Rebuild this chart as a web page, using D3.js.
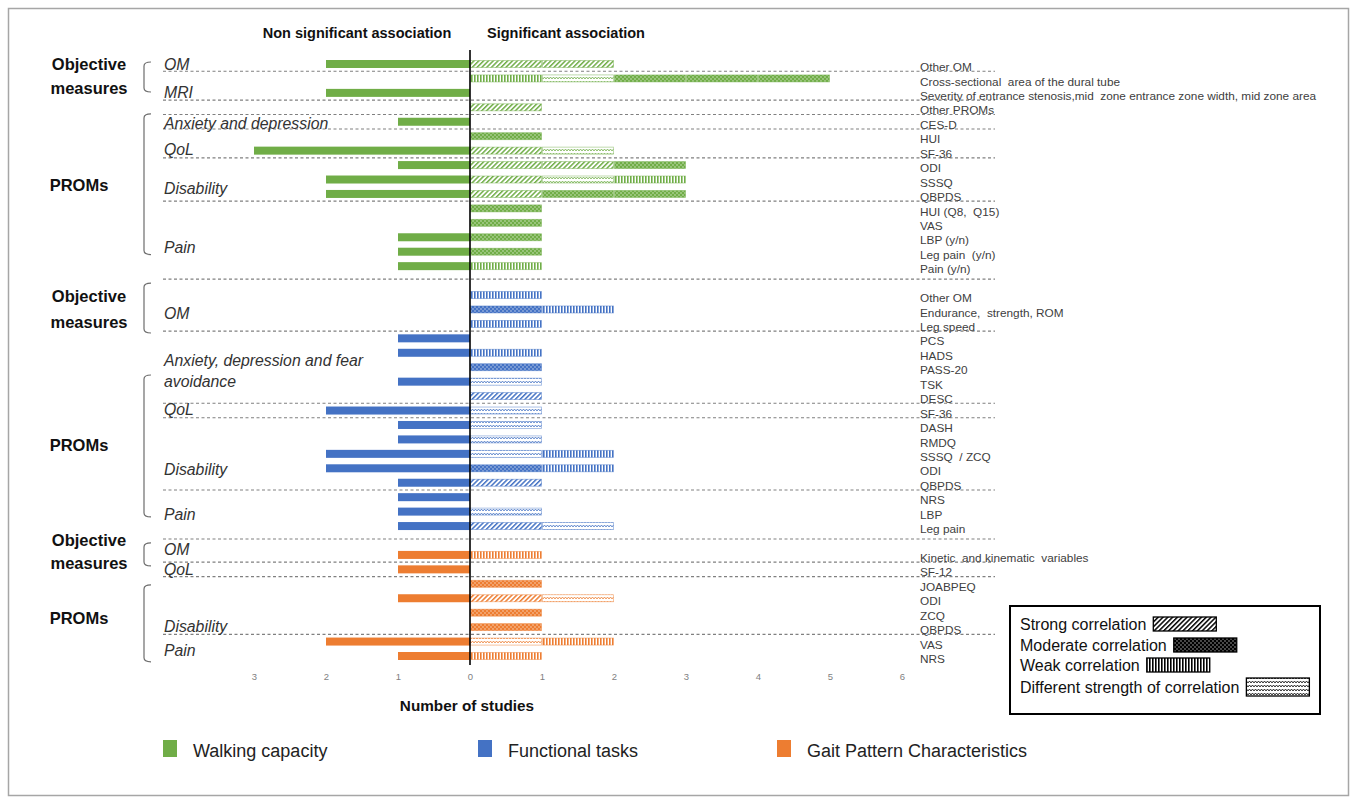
<!DOCTYPE html>
<html>
<head>
<meta charset="utf-8">
<script src="https://cdn.jsdelivr.net/npm/d3@7"></script>
<style>
  body { margin: 0; background: #fff; }
  svg { display: block; }
  text { font-family: "Liberation Sans", Arial, sans-serif; white-space: pre; }
</style>
</head>
<body>
<svg id="chart" width="1357" height="802"></svg>
<script>
// ---- Data -------------------------------------------------------------
// Outcome measures, top to bottom, for each walking-related domain.
// Significant studies are coded one letter per study:
// S = strong, M = moderate, W = weak, D = different strength of correlation.
const walkingOutcomes = ["Other OM", "Cross-sectional  area of the dural tube",
  "Severity of entrance stenosis,mid  zone entrance zone width, mid zone area",
  "Other PROMs", "CES-D", "HUI", "SF-36", "ODI", "SSSQ", "QBPDS",
  "HUI (Q8,  Q15)", "VAS", "LBP (y/n)", "Leg pain  (y/n)", "Pain (y/n)"];
const walkingNonSig = [2, 0, 2, 0, 1, 0, 3, 1, 2, 2, 0, 0, 1, 1, 1];
const walkingSig = ["SS", "WDMMM", "", "S", "", "M", "SD", "SSM", "SDW", "SMM", "M", "M", "M", "M", "W"];

const functionalOutcomes = ["Other OM", "Endurance,  strength, ROM", "Leg speed", "PCS", "HADS",
  "PASS-20", "TSK", "DESC", "SF-36", "DASH", "RMDQ", "SSSQ  / ZCQ", "ODI", "QBPDS",
  "NRS", "LBP", "Leg pain"];
const functionalNonSig = [0, 0, 0, 1, 1, 0, 1, 0, 2, 1, 1, 2, 2, 1, 1, 1, 1];
const functionalSig = ["W", "MW", "W", "", "W", "M", "D", "S", "D", "D", "D", "DW", "MW", "S", "", "D", "SD"];

const gaitOutcomes = ["Kinetic  and kinematic  variables", "SF-12", "JOABPEQ", "ODI", "ZCQ", "QBPDS", "VAS", "NRS"];
const gaitNonSig = [1, 1, 0, 1, 0, 0, 2, 1];
const gaitSig = ["W", "", "M", "SD", "M", "M", "DW", "W"];

// Sub-categories on the left of each domain block
const walkingSections = ["OM", "MRI", "Anxiety and depression", "QoL", "Disability", "Pain"];
const functionalSections = ["OM", "Anxiety, depression and fear\navoidance", "QoL", "Disability", "Pain"];
const gaitSections = ["OM", "QoL", "Disability", "Pain"];

const groupNames = ["Objective\nmeasures", "PROMs"];
const domainNames = ["Walking capacity", "Functional tasks", "Gait Pattern Characteristics"];
const strengthCodes = ["S", "M", "W", "D"];
const strengthNames = ["Strong correlation", "Moderate correlation", "Weak correlation", "Different strength of correlation"];
const tickValues = [-3, -2, -1, 0, 1, 2, 3, 4, 5, 6];

// ---- Layout -------------------------------------------------------------
const domainColors = ["#70ad47", "#4472c4", "#ed7d31"];
// rows (local index) after which a dashed divider is drawn
const walkingBreaks = [0, 2, 3, 4, 6, 9, 14];
const functionalBreaks = [2, 7, 8, 13, 16];
const gaitBreaks = [0, 1, 5];
// vertical anchors (local row units) of section labels
const walkingSectionRows = [0, 2, 4.1, 5.95, 8.6, 12.7];
const functionalSectionRows = [1.3, [4.5, 6.0], 7.95, 12.1, 15.2];
const gaitSectionRows = [-0.4, 1.0, 4.95, 6.6];
// group label rows and bracket spans (local row units)
const walkingGroups = [{ label: [0.05, 1.65], bracket: [-0.14, 1.94] }, { label: [8.4], bracket: [3.46, 13.2] }];
const functionalGroups = [{ label: [0.1, 1.85], bracket: [-0.83, 2.63] }, { label: [10.4], bracket: [5.54, 15.37] }];
const gaitGroups = [{ label: [-1.0, 0.6], bracket: [-0.83, 0.76] }, { label: [4.4], bracket: [2.08, 7.4] }];

const domains = [
  { outcomes: walkingOutcomes, nonSig: walkingNonSig, sig: walkingSig, breaks: walkingBreaks,
    sections: walkingSections, sectionRows: walkingSectionRows, groups: walkingGroups },
  { outcomes: functionalOutcomes, nonSig: functionalNonSig, sig: functionalSig, breaks: functionalBreaks,
    sections: functionalSections, sectionRows: functionalSectionRows, groups: functionalGroups },
  { outcomes: gaitOutcomes, nonSig: gaitNonSig, sig: gaitSig, breaks: gaitBreaks,
    sections: gaitSections, sectionRows: gaitSectionRows, groups: gaitGroups }
];

// Flatten into rows, with one blank row between domains
const rows = [];
let offset = 0;
domains.forEach((d, di) => {
  d.start = offset;
  d.outcomes.forEach((o, i) => rows.push({
    label: o, nonSig: d.nonSig[i], sig: d.sig[i], domain: di, index: offset + i
  }));
  offset += d.outcomes.length + 1;
});
const rowCount = offset - 1;

const svg = d3.select("#chart");

const x = d3.scaleLinear().domain([-3, 6]).range([254, 902]);
const y = d3.scaleLinear().domain([0, rowCount - 1]).range([64, 656]);
const barH = 8;

// ---- Patterns -------------------------------------------------------------
const defs = svg.append("defs");
function addPatterns(key, color) {
  // strong: diagonal hatch
  const s = defs.append("pattern").attr("id", `p-${key}-S`).attr("patternUnits", "userSpaceOnUse")
    .attr("width", 3.4).attr("height", 3.4).attr("patternTransform", "rotate(45)");
  s.append("rect").attr("width", 3.4).attr("height", 3.4).attr("fill", "#fff");
  s.append("rect").attr("width", 1.5).attr("height", 3.4).attr("fill", color);
  // moderate: solid with small light dots
  const m = defs.append("pattern").attr("id", `p-${key}-M`).attr("patternUnits", "userSpaceOnUse")
    .attr("width", 4).attr("height", 4);
  m.append("rect").attr("width", 4).attr("height", 4).attr("fill", color);
  m.append("circle").attr("cx", 1).attr("cy", 1).attr("r", 0.65).attr("fill", "#fff").attr("opacity", 0.8);
  m.append("circle").attr("cx", 3).attr("cy", 3).attr("r", 0.65).attr("fill", "#fff").attr("opacity", 0.8);
  // weak: vertical stripes
  const w = defs.append("pattern").attr("id", `p-${key}-W`).attr("patternUnits", "userSpaceOnUse")
    .attr("width", 3).attr("height", 3);
  w.append("rect").attr("width", 3).attr("height", 3).attr("fill", "#fff");
  w.append("rect").attr("width", 1.6).attr("height", 3).attr("fill", color);
  // different strength: zigzag waves
  const z = defs.append("pattern").attr("id", `p-${key}-D`).attr("patternUnits", "userSpaceOnUse")
    .attr("width", 6).attr("height", 4);
  z.append("rect").attr("width", 6).attr("height", 4).attr("fill", "#fff");
  z.append("polyline").attr("points", "0,3 1.5,1 3,3 4.5,1 6,3").attr("fill", "none")
    .attr("stroke", color).attr("stroke-width", 0.8);
}
domainColors.forEach((c, i) => addPatterns(i, c));
addPatterns("k", "#000");

// ---- Frame -------------------------------------------------------------
svg.append("rect").attr("x", 8.5).attr("y", 8.5).attr("width", 1340).attr("height", 787)
  .attr("fill", "none").attr("stroke", "#a6a6a6").attr("stroke-width", 1.5);

// ---- Dashed dividers -----------------------------------------------------
const dividers = [];
domains.forEach(d => {
  d.breaks.forEach(b => {
    const last = b === d.outcomes.length - 1;
    dividers.push(last ? y(d.start + b + 1) - 1.5 : (y(d.start + b) + y(d.start + b + 1)) / 2);
  });
});
svg.append("g").selectAll("line").data(dividers).join("line")
  .attr("x1", 163).attr("x2", 995).attr("y1", d => d).attr("y2", d => d)
  .attr("stroke", "#808080").attr("stroke-width", 1.1).attr("stroke-dasharray", "3,2.5");

// ---- Bars -------------------------------------------------------------
const barG = svg.append("g");
barG.selectAll("rect.neg").data(rows.filter(r => r.nonSig > 0)).join("rect")
  .attr("class", "neg")
  .attr("x", r => x(-r.nonSig)).attr("width", r => x(0) - x(-r.nonSig))
  .attr("y", r => y(r.index) - barH / 2).attr("height", barH)
  .attr("fill", r => domainColors[r.domain]);

const segments = [];
rows.forEach(r => r.sig.split("").forEach((code, k) =>
  segments.push({ row: r.index, domain: r.domain, code, from: k, to: k + 1 })));
barG.selectAll("rect.sig").data(segments).join("rect")
  .attr("class", "sig")
  .attr("x", s => x(s.from) + 0.5).attr("width", s => x(s.to) - x(s.from) - 1)
  .attr("y", s => y(s.row) - barH / 2 + 0.5).attr("height", barH - 1)
  .attr("fill", s => `url(#p-${s.domain}-${s.code})`)
  .attr("stroke", s => domainColors[s.domain]).attr("stroke-opacity", 0.55).attr("stroke-width", 0.8);

// ---- Zero line and tick labels -------------------------------------------
svg.append("line").attr("x1", x(0)).attr("x2", x(0)).attr("y1", 50).attr("y2", 665)
  .attr("stroke", "#000").attr("stroke-width", 1.6);

const axis = d3.axisBottom(x).tickValues(tickValues).tickFormat(v => Math.abs(v)).tickSize(0).tickPadding(0);
const axisG = svg.append("g").attr("transform", "translate(0,673)").call(axis);
axisG.select(".domain").remove();
axisG.selectAll("text").attr("fill", "#7f7f7f").style("font-size", "9.5px");

svg.append("text").attr("x", 467).attr("y", 711).attr("text-anchor", "middle")
  .style("font-size", "15.3px").style("font-weight", "bold").attr("fill", "#111").text("Number of studies");

// ---- Column headers -------------------------------------------------------
svg.append("text").attr("x", 357).attr("y", 38).attr("text-anchor", "middle")
  .style("font-size", "14.5px").style("font-weight", "bold").attr("fill", "#111").text("Non significant association");
svg.append("text").attr("x", 566).attr("y", 38).attr("text-anchor", "middle")
  .style("font-size", "14.5px").style("font-weight", "bold").attr("fill", "#111").text("Significant association");

// ---- Outcome labels on the right -----------------------------------------
svg.append("g").selectAll("text").data(rows).join("text")
  .attr("x", 920).attr("y", r => y(r.index) + 3).attr("dy", "0.35em")
  .style("font-size", "11.8px").attr("fill", "#404040").text(r => r.label);

// ---- Section labels, group labels and brackets ---------------------------
const leftG = svg.append("g");
domains.forEach(d => {
  d.sections.forEach((s, i) => {
    const pos = d.sectionRows[i];
    const lines = s.split("\n");
    lines.forEach((ln, li) => {
      const r = Array.isArray(pos) ? pos[li] : pos;
      leftG.append("text").attr("x", 164).attr("y", y(d.start + r)).attr("dy", "0.35em")
        .style("font-size", "15.8px").style("font-style", "italic").attr("fill", "#333").text(ln);
    });
  });
  d.groups.forEach((g, gi) => {
    const lines = groupNames[gi].split("\n");
    const cx = lines.length > 1 ? 89 : 79;
    lines.forEach((ln, li) => {
      leftG.append("text").attr("x", cx).attr("y", y(d.start + g.label[li])).attr("dy", "0.35em")
        .attr("text-anchor", "middle").style("font-size", "16.5px").style("font-weight", "bold")
        .attr("fill", "#111").text(ln);
    });
    const y0 = y(d.start + g.bracket[0]), y1 = y(d.start + g.bracket[1]);
    const bx = 144;
    leftG.append("path")
      .attr("d", `M${bx + 7},${y0} Q${bx},${y0} ${bx},${y0 + 4} L${bx},${y1 - 4} Q${bx},${y1} ${bx + 7},${y1}`)
      .attr("fill", "none").attr("stroke", "#6d6d6d").attr("stroke-width", 1.2);
  });
});

// ---- Correlation strength legend -----------------------------------------
const lg = svg.append("g");
lg.append("rect").attr("x", 1010).attr("y", 606).attr("width", 310).attr("height", 108)
  .attr("fill", "#fff").attr("stroke", "#000").attr("stroke-width", 2);
const legendRowY = [624, 645, 665, 687];
const swatchH = [14, 14, 14, 18];
strengthCodes.forEach((c, i) => {
  const t = lg.append("text").attr("x", 1020).attr("y", legendRowY[i]).attr("dy", "0.35em")
    .style("font-size", "16px").attr("fill", "#111").text(strengthNames[i]);
  const tw = t.node().getComputedTextLength();
  lg.append("rect").attr("x", 1020 + tw + 7).attr("y", legendRowY[i] - swatchH[i] / 2)
    .attr("width", 63).attr("height", swatchH[i])
    .attr("fill", `url(#p-k-${c})`).attr("stroke", "#000").attr("stroke-width", 1.3);
});

// ---- Domain legend -------------------------------------------------------
const domainLegendX = [163, 478, 777];
const dl = svg.append("g");
domainNames.forEach((n, i) => {
  dl.append("rect").attr("x", domainLegendX[i]).attr("y", 740).attr("width", 14).attr("height", 17)
    .attr("fill", domainColors[i]);
  dl.append("text").attr("x", domainLegendX[i] + 30).attr("y", 751).attr("dy", "0.35em")
    .style("font-size", "18px").attr("fill", "#222").text(n);
});
</script>
</body>
</html>
